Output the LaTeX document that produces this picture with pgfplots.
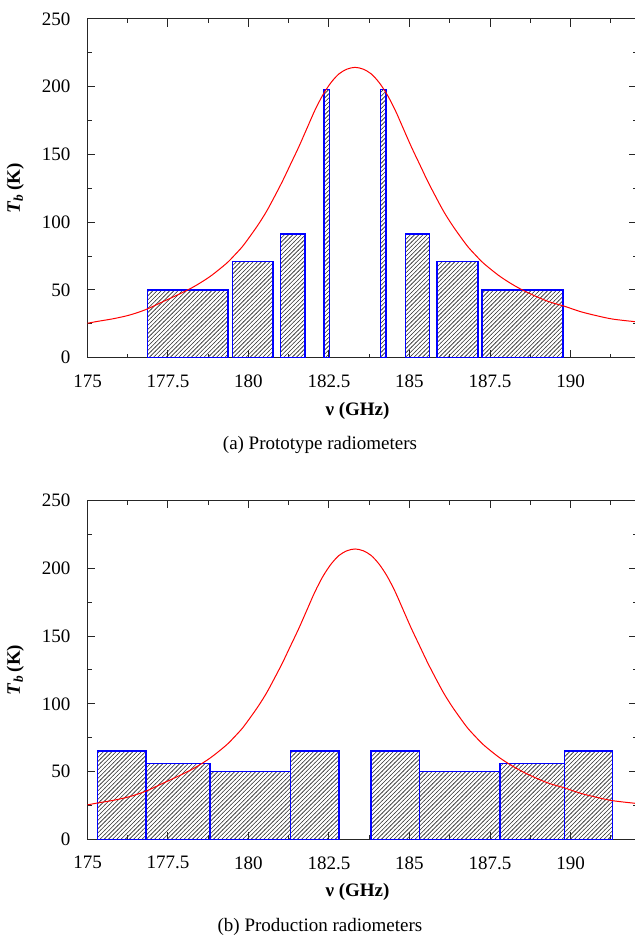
\documentclass[border=0pt]{standalone}
\usepackage{pgfplots}
\pgfplotsset{compat=1.18}
\usepackage{fontspec}
\setmainfont{Liberation Serif}
\usetikzlibrary{patterns}

\pgfdeclarepatternformonly{densehatch}{\pgfqpoint{-0.5pt}{-0.5pt}}{\pgfqpoint{2.6pt}{2.6pt}}{\pgfqpoint{2.1pt}{2.1pt}}{%
  \pgfsetlinewidth{0.3pt}%
  \pgfpathmoveto{\pgfqpoint{-0.1pt}{-0.1pt}}%
  \pgfpathlineto{\pgfqpoint{2.2pt}{2.2pt}}%
  \pgfusepath{stroke}}

\pgfplotstableread{
x y
175.00 25.4
175.31 26.8
175.81 28.8
176.31 31.5
176.81 35.5
177.31 41
177.81 46.5
178.31 52.5
178.81 60
179.31 69.5
179.56 75.5
179.81 82
180.06 90
180.31 98.5
180.56 108
180.81 119
181.06 130.5
181.31 143
181.56 155.5
181.81 169
182.06 182.5
182.31 194
182.56 203
182.81 209.5
183.06 213
183.31 214.3
183.56 213
183.81 209.5
184.06 203
184.31 194
184.56 182.5
184.81 169
185.06 155.5
185.31 143
185.56 130.5
185.81 119
186.06 108
186.31 98.5
186.56 90
186.81 82
187.06 75.5
187.31 69.5
187.81 60
188.31 52.5
188.81 46.5
189.31 41.5
189.81 38
190.31 34
190.81 31
191.31 28.5
192.00 26.6
}\curve

\pgfplotsset{
 radstyle/.style={
  scale only axis, width=274.5pt, height=169.35pt,
  anchor=south west,
  xmin=175, xmax=192.05, ymin=0, ymax=250,
  xtick={175,177.5,180,182.5,185,187.5,190},
  xticklabels={175,177.5,180,182.5,185,187.5,190},
  minor xtick={176.25,178.75,181.25,183.75,186.25,188.75,191.25},
  ytick={0,50,100,150,200,250}, yticklabels={0,50,100,150,200,250},
  minor ytick={25,75,125,175,225},
  major tick length=3.8pt, minor tick length=2pt,
  axis line style={black!85, line width=0.5pt},
  every tick/.style={black!85, line width=0.5pt},
  tick label style={font=\fontsize{9.5}{11}\selectfont},
  xticklabel style={yshift=-5pt},
  yticklabel style={xshift=-5pt},
  label style={font=\fontsize{9.5}{11}\selectfont\bfseries},
  xlabel={ν (GHz)},
  ylabel={\textit{T}\textsubscript{\textit{b}}\,(K)},
  xlabel style={at={(axis description cs:0.4918,-0.1565)},anchor=center},
  ylabel style={at={(axis description cs:-0.1314,0.5)},anchor=center},
 },
 hfill/.style={draw=none, pattern=densehatch, pattern color=black!80},
 hline/.style={draw=blue, line width=0.8pt, fill=none, line join=miter},
 wline/.style={red, line width=0.5pt, smooth, no markers}
}
\newcommand{\hbf}[3]{%
\addplot[hfill] coordinates {(#1,0)(#1,#3)(#2,#3)(#2,0)} --cycle;}
\newcommand{\hbl}[3]{%
\addplot[hline] coordinates {(#1,0)(#1,#3)(#2,#3)(#2,0)} --cycle;}

\begin{document}
\begin{tikzpicture}
\useasboundingbox (-43.75pt,-288.65pt) rectangle (273.75pt,178.85pt);
\begin{axis}[radstyle, at={(0pt,0pt)}]
\hbf{176.86}{179.36}{50}
\hbf{179.50}{180.77}{71}
\hbf{181.00}{181.75}{91.5}
\hbf{182.35}{182.52}{198}
\hbf{184.10}{184.27}{198}
\hbf{184.87}{185.62}{91.5}
\hbf{185.85}{187.12}{71}
\hbf{187.26}{189.76}{50}
\hbl{176.86}{179.36}{50}
\hbl{179.50}{180.77}{71}
\hbl{181.00}{181.75}{91.5}
\hbl{182.35}{182.52}{198}
\hbl{184.10}{184.27}{198}
\hbl{184.87}{185.62}{91.5}
\hbl{185.85}{187.12}{71}
\hbl{187.26}{189.76}{50}
\addplot[wline] table[x=x,y=y] {\curve};
\end{axis}
\node[font=\fontsize{9.5}{11}\selectfont] at (116.25pt,-43.7pt) {(a) Prototype radiometers};

\begin{axis}[radstyle, at={(0pt,-240.8pt)}]
\hbf{175.31}{176.81}{65}
\hbf{176.81}{178.81}{56}
\hbf{178.81}{181.31}{50}
\hbf{181.31}{182.81}{65}
\hbf{183.81}{185.31}{65}
\hbf{185.31}{187.81}{50}
\hbf{187.81}{189.81}{56}
\hbf{189.81}{191.31}{65}
\hbl{175.31}{176.81}{65}
\hbl{176.81}{178.81}{56}
\hbl{178.81}{181.31}{50}
\hbl{181.31}{182.81}{65}
\hbl{183.81}{185.31}{65}
\hbl{185.31}{187.81}{50}
\hbl{187.81}{189.81}{56}
\hbl{189.81}{191.31}{65}
\addplot[wline] table[x=x,y=y] {\curve};
\end{axis}
\node[font=\fontsize{9.5}{11}\selectfont] at (116.25pt,-284.5pt) {(b) Production radiometers};
\end{tikzpicture}
\end{document}
